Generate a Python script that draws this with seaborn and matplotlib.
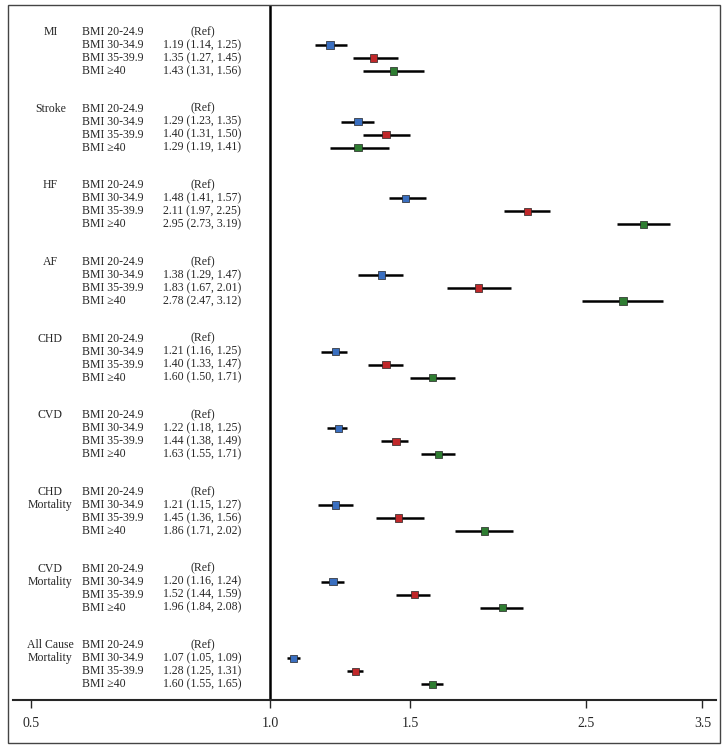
import numpy as np
import pandas as pd
import matplotlib
matplotlib.use("Agg")
import matplotlib.pyplot as plt
import seaborn as sns

outcomes = ["MI", "Stroke", "HF", "AF", "CHD", "CVD", "CHD\nMortality", "CVD\nMortality", "All Cause\nMortality"]
bmi_cats = ["BMI 20-24.9", "BMI 30-34.9", "BMI 35-39.9", "BMI \u226540"]
hr = [
    [1.19, 1.35, 1.43], [1.29, 1.40, 1.29], [1.48, 2.11, 2.95], [1.38, 1.83, 2.78],
    [1.21, 1.40, 1.60], [1.22, 1.44, 1.63], [1.21, 1.45, 1.86], [1.20, 1.52, 1.96],
    [1.07, 1.28, 1.60],
]
lo = [
    [1.14, 1.27, 1.31], [1.23, 1.31, 1.19], [1.41, 1.97, 2.73], [1.29, 1.67, 2.47],
    [1.16, 1.33, 1.50], [1.18, 1.38, 1.55], [1.15, 1.36, 1.71], [1.16, 1.44, 1.84],
    [1.05, 1.25, 1.55],
]
hi = [
    [1.25, 1.45, 1.56], [1.35, 1.50, 1.41], [1.57, 2.25, 3.19], [1.47, 2.01, 3.12],
    [1.25, 1.47, 1.71], [1.25, 1.49, 1.71], [1.27, 1.56, 2.02], [1.24, 1.59, 2.08],
    [1.09, 1.31, 1.65],
]
colors = ["#3a6fc0", "#c0282a", "#2f7d32"]
gap = 5.9

rows = []
for g, name in enumerate(outcomes):
    for k in range(3):
        rows.append(dict(y=g * gap + k + 1, hr=hr[g][k], lo=lo[g][k], hi=hi[g][k], cat=bmi_cats[k + 1]))
df = pd.DataFrame(rows)

sns.set_style("white")
plt.rcParams["font.family"] = ["Liberation Serif", "DejaVu Serif"]

fig = plt.figure(figsize=(7.24, 7.47), dpi=100)
ax = fig.add_axes([13 / 724, 1 - 700 / 747, (716 - 13) / 724, (700 - 5) / 747])
ax.set_xscale("log")
ax.set_xlim(0.475, 3.64)
ax.set_ylim(51.4, -2.08)

ax.hlines(df["y"], df["lo"], df["hi"], color="black", lw=1.8, zorder=2)
sns.scatterplot(data=df, x="hr", y="y", hue="cat", palette=colors, marker="s", s=28,
                edgecolor="#222222", linewidth=0.5, legend=False, ax=ax, zorder=3)
ax.axvline(1.0, color="black", lw=1.8, zorder=1)

trans = ax.get_yaxis_transform()
for g, name in enumerate(outcomes):
    y0 = g * gap
    for i, ln in enumerate(name.split("\n")):
        ax.text(0.053, y0 + i, ln, transform=trans, ha="center", va="center", fontsize=8.5)
    for k in range(4):
        ax.text(0.098, y0 + k, bmi_cats[k], transform=trans, ha="left", va="center", fontsize=8.5)
        if k == 0:
            ax.text(0.27, y0, "(Ref)", transform=trans, ha="center", va="center", fontsize=8.5)
        else:
            txt = f"{hr[g][k-1]:.2f} ({lo[g][k-1]:.2f}, {hi[g][k-1]:.2f})"
            ax.text(0.214, y0 + k, txt, transform=trans, ha="left", va="center", fontsize=8.5)

ticks = [0.5, 1.0, 1.5, 2.5, 3.5]
ax.set_xticks(ticks)
ax.set_xticklabels([f"{t:.1f}" for t in ticks], fontsize=10)
ax.xaxis.set_minor_locator(matplotlib.ticker.NullLocator())
ax.tick_params(axis="x", direction="out", length=6, width=1, pad=6, bottom=True)
ax.set_yticks([])
ax.set_xlabel("")
ax.set_ylabel("")
for s in ["left", "right", "top"]:
    ax.spines[s].set_visible(False)
ax.spines["bottom"].set_linewidth(1.5)

fig.patches.append(plt.Rectangle((8 / 724, 4 / 747), 712 / 724, 738 / 747, transform=fig.transFigure,
                                 fill=False, edgecolor="#444444", lw=1))
fig.savefig("out.png", dpi=100)
